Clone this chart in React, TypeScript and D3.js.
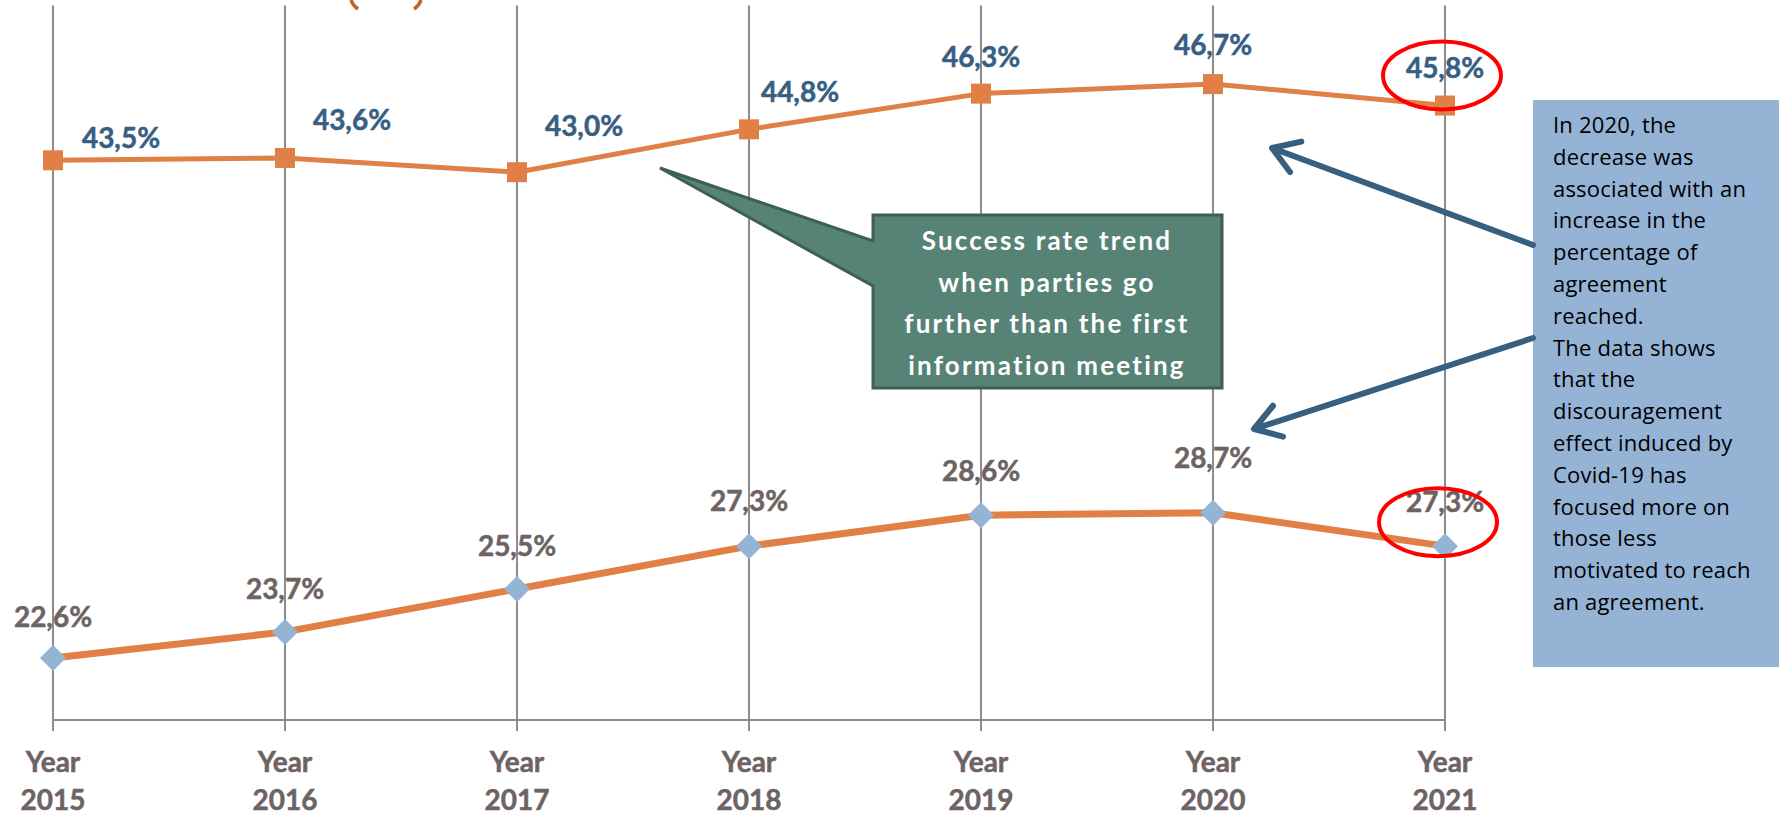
import React from 'react';
import * as d3 from 'd3';

const years = ['2015', '2016', '2017', '2018', '2019', '2020', '2021'];
const tickTop = 'Year';
const upperSeries = [43.5, 43.6, 43.0, 44.8, 46.3, 46.7, 45.8];
const lowerSeries = [22.6, 23.7, 25.5, 27.3, 28.6, 28.7, 27.3];
const upperLabelOffsets = [[68, -22], [67, -38], [67, -46], [51, -37], [0, -37], [0, -39], [0, -38]];
const lowerLabelOffsets = [[0, -41], [0, -43], [0, -43], [0, -45], [0, -44], [0, -55], [0, -44]];
const calloutLines = ['Success rate trend', 'when parties go', 'further than the first', 'information meeting'];
const noteLines = [
  'In 2020, the',
  'decrease was',
  'associated with an',
  'increase in the',
  'percentage of',
  'agreement',
  'reached.',
  'The data shows',
  'that the',
  'discouragement',
  'effect induced by',
  'Covid-19 has',
  'focused more on',
  'those less',
  'motivated to reach',
  'an agreement.',
];

const fmt = (v: number) => v.toFixed(1).replace('.', ',') + '%';

const W = 1779;
const H = 815;
const ORANGE = '#E07F46';
const DIAMOND = '#94B4D4';
const GRID = '#8C8C8C';
const UPPER_TXT = '#375F83';
const LOWER_TXT = '#6D6363';
const ARROW = '#375F80';

function arrowPath(x1: number, y1: number, x2: number, y2: number, len: number) {
  const a = Math.atan2(y2 - y1, x2 - x1);
  const spread = Math.PI / 5.5;
  const ax = x2 - len * Math.cos(a - spread);
  const ay = y2 - len * Math.sin(a - spread);
  const bx = x2 - len * Math.cos(a + spread);
  const by = y2 - len * Math.sin(a + spread);
  return `M${x1},${y1}L${x2},${y2}M${ax},${ay}L${x2},${y2}L${bx},${by}`;
}

export default function App() {
  const x = d3.scalePoint<string>().domain(years).range([53, 1445]);
  const y = d3.scaleLinear().domain([20, 50]).range([720, 5.5]);
  const line = d3
    .line<number>()
    .x((_, i) => x(years[i]) as number)
    .y((d) => y(d));

  const font = 'Lato, "Open Sans", sans-serif';

  return (
    <svg
      width={W}
      height={H}
      style={{ position: 'absolute', left: 0, top: 0, background: '#fff' }}
      xmlns="http://www.w3.org/2000/svg"
    >
      <rect x={0} y={0} width={W} height={H} fill="#fff" />
      {/* partially visible element at top */}
      <path d="M351,0 Q353,6 358,9" fill="none" stroke="#C0632C" strokeWidth={3.5} />
      <path d="M421,0 Q419,6 414,9" fill="none" stroke="#C0632C" strokeWidth={3.5} />

      {/* gridlines */}
      {years.map((yr) => (
        <line
          key={'g' + yr}
          x1={x(yr)}
          x2={x(yr)}
          y1={y(50)}
          y2={y(20) + 11}
          stroke={GRID}
          strokeWidth={2}
        />
      ))}
      <line x1={x(years[0])} x2={x(years[years.length - 1])} y1={y(20)} y2={y(20)} stroke={GRID} strokeWidth={2} />

      {/* axis labels */}
      {years.map((yr) => (
        <g
          key={'t' + yr}
          fontFamily={font}
          fontWeight={700}
          fontSize={28}
          fill={LOWER_TXT}
          stroke={LOWER_TXT}
          strokeWidth={0.5}
          textAnchor="middle"
        >
          <text x={x(yr)} y={772}>{tickTop}</text>
          <text x={x(yr)} y={810}>{yr}</text>
        </g>
      ))}

      {/* lower series */}
      <path d={line(lowerSeries) || ''} fill="none" stroke={ORANGE} strokeWidth={7} strokeLinejoin="round" />
      {lowerSeries.map((v, i) => {
        const cx = x(years[i]) as number;
        const cy = y(v);
        const s = 13;
        return (
          <path key={'d' + i} d={`M${cx},${cy - s}L${cx + s},${cy}L${cx},${cy + s}L${cx - s},${cy}Z`} fill={DIAMOND} />
        );
      })}
      {lowerSeries.map((v, i) => (
        <text
          key={'ll' + i}
          x={(x(years[i]) as number) + lowerLabelOffsets[i][0]}
          y={y(v) + lowerLabelOffsets[i][1] + 10}
          fontFamily={font}
          fontWeight={700}
          fontSize={28}
          fill={LOWER_TXT}
          stroke={LOWER_TXT}
          strokeWidth={0.5}
          textAnchor="middle"
        >
          {fmt(v)}
        </text>
      ))}

      {/* upper series */}
      <path d={line(upperSeries) || ''} fill="none" stroke={ORANGE} strokeWidth={5} strokeLinejoin="round" />
      {upperSeries.map((v, i) => {
        const cx = x(years[i]) as number;
        const cy = y(v);
        const s = 10;
        return <rect key={'s' + i} x={cx - s} y={cy - s} width={2 * s} height={2 * s} fill={ORANGE} />;
      })}
      {upperSeries.map((v, i) => (
        <text
          key={'ul' + i}
          x={(x(years[i]) as number) + upperLabelOffsets[i][0]}
          y={y(v) + upperLabelOffsets[i][1] + 10}
          fontFamily={font}
          fontWeight={700}
          fontSize={28}
          fill={UPPER_TXT}
          stroke={UPPER_TXT}
          strokeWidth={0.5}
          textAnchor="middle"
        >
          {fmt(v)}
        </text>
      ))}

      {/* green callout */}
      <path
        d="M873,215H1222V388H873V286L660,168L873,241Z"
        fill="#578377"
        stroke="#3F5E55"
        strokeWidth={3}
        strokeLinejoin="miter"
      />
      {calloutLines.map((t, i) => (
        <text
          key={'c' + i}
          x={1047}
          y={250 + i * 41.7}
          fontFamily={font}
          fontWeight={700}
          fontSize={26}
          letterSpacing={2.2}
          fill="#fff"
          textAnchor="middle"
        >
          {t}
        </text>
      ))}

      {/* red ellipses */}
      <ellipse cx={1442} cy={y(upperSeries[6]) - 30} rx={59} ry={34} fill="none" stroke="#FF0000" strokeWidth={4} />
      <ellipse cx={1438} cy={y(lowerSeries[6]) - 24} rx={59} ry={34} fill="none" stroke="#FF0000" strokeWidth={4} />

      {/* note box */}
      <rect x={1533} y={100} width={W - 1533} height={567} fill="#95B3D5" />
      {noteLines.map((t, i) => (
        <text
          key={'n' + i}
          x={1553}
          y={133 + i * 31.8}
          fontFamily='"Open Sans", sans-serif'
          fontSize={22}
          letterSpacing={0.2}
          fill="#000"
        >
          {t}
        </text>
      ))}

      {/* arrows */}
      <path d={arrowPath(1533, 245, 1272, 148, 30)} fill="none" stroke={ARROW} strokeWidth={6} strokeLinecap="round" strokeLinejoin="round" />
      <path d={arrowPath(1533, 338, 1254, 429, 30)} fill="none" stroke={ARROW} strokeWidth={6} strokeLinecap="round" strokeLinejoin="round" />
    </svg>
  );
}
